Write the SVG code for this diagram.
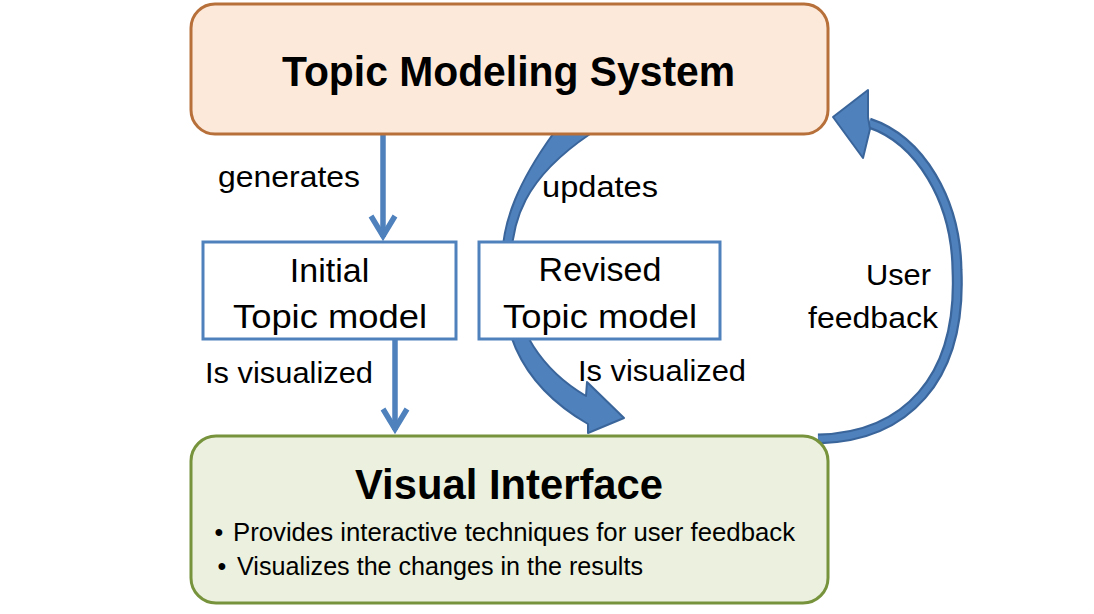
<svg xmlns="http://www.w3.org/2000/svg" width="1094" height="614" viewBox="0 0 1094 614">
  <style>
    .txt { font-family: "Liberation Sans", Arial, sans-serif; fill: #000; }
    .title { font-weight: bold; font-size: 42px; }
    .inner { font-size: 34px; }
    .lbl { font-size: 29px; }
    .bullet { font-size: 25px; }
    .model { fill: #fff; stroke: #4F81BD; stroke-width: 3; }
    .flow { fill: none; stroke: #4F81BD; stroke-width: 5.5; }
    .bigarrow { fill: #4F81BD; stroke: #3A659B; stroke-width: 2; stroke-linejoin: round; }
  </style>
  <defs>
    <marker id="chev" markerUnits="userSpaceOnUse" markerWidth="40" markerHeight="40" viewBox="-30 -20 40 40" refX="0" refY="0" orient="auto" overflow="visible">
      <path d="M-21,-12 L-1,0 L-21,12" fill="none" stroke="#4F81BD" stroke-width="5.5"/>
    </marker>
  </defs>

  <rect width="1094" height="614" fill="#fff"/>

  <g id="connectors">
    <!-- curved "updates" arrow, partly hidden behind the boxes -->
    <path class="bigarrow" d="M553,134 C520,180 502,220 502,262 C500,320 512,380 588,424 L588,433 L624,418 L587,382 L586,396 C545,372 512,330 511,270 C510,220 525,178 590,134 Z"/>
    <!-- straight arrows -->
    <path class="flow" d="M383,134 L383,237" marker-end="url(#chev)"/>
    <path class="flow" d="M395,339 L395,430" marker-end="url(#chev)"/>
    <!-- "User feedback" loop -->
    <path d="M818,439 C905,437 962,380 957,270 C956,200 920,140 869,123" fill="none" stroke="#3A659B" stroke-width="11"/>
    <path d="M818,439 C905,437 962,380 957,270 C956,200 920,140 869,123" fill="none" stroke="#4F81BD" stroke-width="6.5"/>
    <polygon class="bigarrow" points="833,117 868,90 868,117 870,129 863,158"/>

    <text class="txt lbl" x="218" y="187" textLength="142" lengthAdjust="spacingAndGlyphs">generates</text>
    <text class="txt lbl" x="542" y="197" textLength="116" lengthAdjust="spacingAndGlyphs">updates</text>
    <text class="txt lbl" x="205" y="383" textLength="168" lengthAdjust="spacingAndGlyphs">Is visualized</text>
    <text class="txt lbl" x="578" y="381" textLength="168" lengthAdjust="spacingAndGlyphs">Is visualized</text>
    <text class="txt lbl" x="866" y="285" textLength="65" lengthAdjust="spacingAndGlyphs">User</text>
    <text class="txt lbl" x="808" y="328" textLength="130" lengthAdjust="spacingAndGlyphs">feedback</text>
  </g>

  <g id="topic-modeling-system">
    <rect x="191" y="4" width="637" height="130" rx="24" fill="#FCE9DA" stroke="#B7703A" stroke-width="3"/>
    <text class="txt title" x="282" y="86" textLength="453" lengthAdjust="spacingAndGlyphs">Topic Modeling System</text>
  </g>

  <g id="initial-topic-model">
    <rect class="model" x="203" y="242" width="253" height="97"/>
    <text class="txt inner" x="329.5" y="282" text-anchor="middle">Initial</text>
    <text class="txt inner" x="233" y="328" textLength="194" lengthAdjust="spacingAndGlyphs">Topic model</text>
  </g>

  <g id="revised-topic-model">
    <rect class="model" x="479" y="242" width="241" height="97"/>
    <text class="txt inner" x="600" y="281" text-anchor="middle">Revised</text>
    <text class="txt inner" x="503" y="328" textLength="194" lengthAdjust="spacingAndGlyphs">Topic model</text>
  </g>

  <g id="visual-interface">
    <rect x="191" y="436" width="637" height="167" rx="25" fill="#EBF1DE" stroke="#77933C" stroke-width="3"/>
    <text class="txt title" x="355" y="499" textLength="308" lengthAdjust="spacingAndGlyphs">Visual Interface</text>
    <text class="txt bullet" x="219" y="541" text-anchor="middle">•</text>
    <text class="txt bullet" x="233" y="541" textLength="562" lengthAdjust="spacingAndGlyphs">Provides interactive techniques for user feedback</text>
    <text class="txt bullet" x="222" y="575" text-anchor="middle">•</text>
    <text class="txt bullet" x="237" y="575" textLength="406" lengthAdjust="spacingAndGlyphs">Visualizes the changes in the results</text>
  </g>
</svg>
